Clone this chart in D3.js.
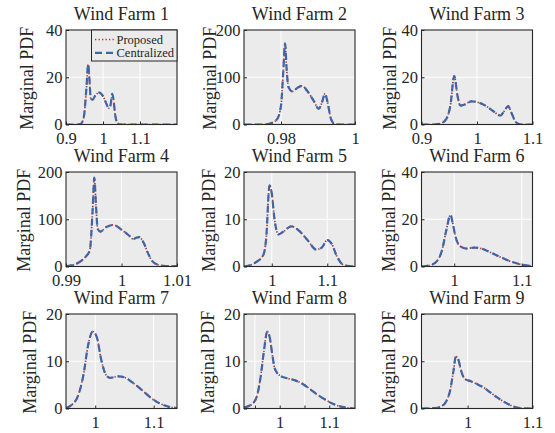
<!DOCTYPE html>
<html>
<head>
<meta charset="utf-8">
<script src="https://cdn.jsdelivr.net/npm/d3@7"></script>
<style>
body { margin: 0; background: #fff; }
svg { display: block; }
text { font-family: "Liberation Serif", "Times New Roman", serif; fill: #262626; }
</style>
</head>
<body>
<svg id="chart" width="555" height="433"></svg>
<script>
// marginal PDF curves (proposed and centralized coincide)
var farm1X = [0.90, 0.93, 0.94, 0.948, 0.955, 0.96, 0.963, 0.967, 0.972, 0.98, 0.99, 1.0, 1.01, 1.015, 1.02, 1.025, 1.028, 1.033, 1.04, 1.05, 1.2];
var farm1Y = [0, 0, 0.3, 3, 15, 25.5, 20, 11, 10.5, 12.5, 13.5, 12, 8.5, 7, 8, 13, 11, 4, 0.5, 0, 0];
var farm2X = [0.97, 0.975, 0.977, 0.979, 0.980, 0.9806, 0.9811, 0.9815, 0.982, 0.9831, 0.9845, 0.9857, 0.987, 0.989, 0.9902, 0.991, 0.9919, 0.9925, 0.9935, 0.9945, 0.996, 1.0];
var farm2Y = [0, 0, 2, 12, 40, 110, 172, 120, 80, 70, 78, 82, 72, 48, 33, 45, 65, 50, 12, 1, 0, 0];
var farm3X = [0.9, 0.92, 0.935, 0.945, 0.952, 0.959, 0.965, 0.97, 0.978, 0.99, 1.0, 1.015, 1.03, 1.042, 1.05, 1.056, 1.062, 1.07, 1.08, 1.1];
var farm3Y = [0, 0, 0.5, 2.5, 8, 20.5, 12, 8, 8.5, 9.8, 9.5, 8, 5.5, 3.8, 6, 7.8, 5, 1, 0, 0];
var farm4X = [0.99, 0.9915, 0.9925, 0.9935, 0.9943, 0.9948, 0.9951, 0.9954, 0.9957, 0.9962, 0.9972, 0.9985, 1.0, 1.0015, 1.0021, 1.0027, 1.0032, 1.004, 1.0047, 1.0055, 1.0065, 1.008, 1.01];
var farm4Y = [0.5, 4, 10, 20, 35, 120, 188, 130, 80, 74, 83, 88, 78, 64, 58, 61, 62, 50, 30, 12, 4, 1, 0.5];
var farm5X = [0.95, 0.97, 0.985, 0.99, 0.996, 1.0, 1.005, 1.012, 1.02, 1.035, 1.05, 1.065, 1.08, 1.09, 1.1, 1.108, 1.118, 1.13, 1.15];
var farm5Y = [0, 0.8, 2.5, 6, 17.2, 15.5, 10, 6.8, 7.3, 8.5, 7.5, 5.5, 3.6, 4, 5.6, 4.8, 2, 0.3, 0];
var farm6X = [0.9515, 0.965, 0.975, 0.982, 0.988, 0.9945, 0.998, 1.002, 1.008, 1.018, 1.03, 1.04, 1.055, 1.07, 1.085, 1.1, 1.116];
var farm6Y = [0, 0.6, 2.5, 7, 15, 21.8, 18, 12.5, 8.8, 7.6, 8, 7.6, 5.8, 3.8, 2, 0.8, 0.1];
var farm7X = [0.95, 0.96, 0.97, 0.98, 0.988, 0.996, 1.003, 1.01, 1.018, 1.025, 1.04, 1.05, 1.065, 1.08, 1.095, 1.11, 1.125, 1.14];
var farm7Y = [0.1, 0.8, 2.5, 7.2, 13.5, 16.3, 15, 10.5, 7.2, 6.5, 6.8, 6.6, 5.4, 3.9, 2.3, 1.1, 0.4, 0.1];
var farm8X = [0.928, 0.945, 0.955, 0.962, 0.968, 0.975, 0.98, 0.985, 0.99, 1.0, 1.015, 1.03, 1.045, 1.06, 1.075, 1.09, 1.105, 1.12, 1.135, 1.152];
var farm8Y = [0.2, 1, 3, 7, 12, 16.3, 15, 11.5, 8.5, 7, 6.4, 6, 5.3, 4.2, 3, 2, 1.1, 0.5, 0.15, 0];
var farm9X = [0.929, 0.95, 0.96, 0.967, 0.973, 0.978, 0.982, 0.986, 0.99, 0.996, 1.005, 1.015, 1.025, 1.035, 1.045, 1.055, 1.065, 1.075, 1.085, 1.1];
var farm9Y = [0, 0.2, 1, 3, 7.5, 15.5, 22, 20.5, 16, 12.5, 11.5, 10.3, 8.8, 6.8, 4.8, 3, 1.5, 0.5, 0.1, 0];

var farmX = [farm1X, farm2X, farm3X, farm4X, farm5X, farm6X, farm7X, farm8X, farm9X];
var farmY = [farm1Y, farm2Y, farm3Y, farm4Y, farm5Y, farm6Y, farm7Y, farm8Y, farm9Y];

var titles = ['Wind Farm 1', 'Wind Farm 2', 'Wind Farm 3', 'Wind Farm 4', 'Wind Farm 5', 'Wind Farm 6', 'Wind Farm 7', 'Wind Farm 8', 'Wind Farm 9'];
var xDomains = [[0.9, 1.2], [0.97, 1.0], [0.9, 1.1], [0.99, 1.01], [0.95, 1.15], [0.9515, 1.116], [0.95, 1.14], [0.928, 1.152], [0.929, 1.1]];
var xTicks = [[0.9, 1, 1.1], [0.98, 1], [0.9, 1, 1.1], [0.99, 1, 1.01], [1, 1.1], [1, 1.1], [1, 1.1], [0.95, 1, 1.05, 1.1], [1, 1.1]];
var xTickLabels = [['0.9', '1', '1.1'], ['0.98', '1'], ['0.9', '1', '1.1'], ['0.99', '1', '1.01'], ['1', '1.1'], ['1', '1.1'], ['1', '1.1'], ['', '1', '', '1.1'], ['1', '1.1']];
var yMax = [40, 200, 40, 200, 20, 40, 20, 20, 40];
var seriesNames = ['Proposed', 'Centralized'];

var colLeft = [66, 244, 421.5];
var rowTop = [30, 172, 314];
var plotW = 111, plotH = 94.5;
var ylabelX = [28.5, 212, 392, 25.5, 210.5, 391, 32, 210, 390.5];

var svg = d3.select('#chart');

titles.forEach(function(title, i) {
	var left = colLeft[i % 3], top = rowTop[Math.floor(i / 3)];
	var x = d3.scaleLinear().domain(xDomains[i]).range([0, plotW]);
	var y = d3.scaleLinear().domain([0, yMax[i]]).range([plotH, 0]);

	var g = svg.append('g').attr('transform', 'translate(' + left + ',' + top + ')');

	g.append('rect').attr('width', plotW).attr('height', plotH).attr('fill', '#ebebeb');

	g.append('clipPath').attr('id', 'clip' + i)
		.append('rect').attr('width', plotW).attr('height', plotH);

	// grid
	g.selectAll('.vgrid').data(xTicks[i]).enter().append('line')
		.attr('x1', function(d) { return x(d); }).attr('x2', function(d) { return x(d); })
		.attr('y1', 0).attr('y2', plotH)
		.attr('stroke', '#fff').attr('stroke-width', 1);
	g.append('line')
		.attr('x1', 0).attr('x2', plotW)
		.attr('y1', y(yMax[i] / 2)).attr('y2', y(yMax[i] / 2))
		.attr('stroke', '#fff').attr('stroke-width', 1);

	var pts = farmX[i].map(function(v, k) { return [v, farmY[i][k]]; });
	var line = d3.line()
		.x(function(d) { return x(d[0]); })
		.y(function(d) { return y(d[1]); })
		.curve(d3.curveMonotoneX);

	var lines = g.append('g').attr('clip-path', 'url(#clip' + i + ')');
	lines.append('path').attr('d', line(pts))
		.attr('fill', 'none').attr('stroke', '#a8362f').attr('stroke-width', 1.7)
		.attr('stroke-dasharray', '1.3,2.2');
	lines.append('path').attr('d', line(pts))
		.attr('fill', 'none').attr('stroke', '#4064a6').attr('stroke-width', 2.2)
		.attr('stroke-dasharray', '7,4');

	// axes
	var xAxis = d3.axisBottom(x).tickValues(xTicks[i]).tickSizeInner(-3).tickSizeOuter(0).tickPadding(8)
		.tickFormat(function(d, k) { return xTickLabels[i][k]; });
	var yAxis = d3.axisLeft(y).tickValues([0, yMax[i] / 2, yMax[i]]).tickSizeInner(-3).tickSizeOuter(0).tickPadding(3.5);

	var xa = g.append('g').attr('transform', 'translate(0,' + plotH + ')').call(xAxis);
	var ya = g.append('g').call(yAxis);
	[xa, ya].forEach(function(a) {
		a.select('.domain').remove();
		a.selectAll('line').attr('stroke', '#262626');
		a.selectAll('text').attr('font-size', 16.5).attr('font-family', null).attr('fill', '#262626');
	});
	ya.selectAll('text').attr('dy', '0.33em');

	g.append('rect').attr('width', plotW).attr('height', plotH)
		.attr('fill', 'none').attr('stroke', '#262626').attr('stroke-width', 1.1);

	g.append('text').attr('x', plotW / 2).attr('y', -10.5)
		.attr('text-anchor', 'middle').attr('font-size', 18).text(title);

	svg.append('text')
		.attr('transform', 'translate(' + (ylabelX[i] + 4) + ',' + (top + plotH / 2 + 1) + ') rotate(-90)')
		.attr('text-anchor', 'middle').attr('font-size', 18).text('Marginal PDF');

	if (i === 0) {
		var lg = g.append('g').attr('transform', 'translate(' + (plotW - 85.5) + ',0)');
		lg.append('rect').attr('width', 85.5).attr('height', 31)
			.attr('fill', '#ebebeb').attr('stroke', '#262626').attr('stroke-width', 1);
		var styles = [
			{ color: '#a8362f', width: 1.7, dash: '1.3,2.2' },
			{ color: '#4064a6', width: 2.2, dash: '7,4' }
		];
		seriesNames.forEach(function(name, k) {
			var cy = 9.5 + k * 13.3;
			lg.append('line').attr('x1', 3.5).attr('x2', 22.5).attr('y1', cy).attr('y2', cy)
				.attr('stroke', styles[k].color).attr('stroke-width', styles[k].width)
				.attr('stroke-dasharray', styles[k].dash);
			lg.append('text').attr('x', 25).attr('y', cy).attr('dy', '0.33em')
				.attr('font-size', 12.5).text(name);
		});
	}
});
</script>
</body>
</html>
